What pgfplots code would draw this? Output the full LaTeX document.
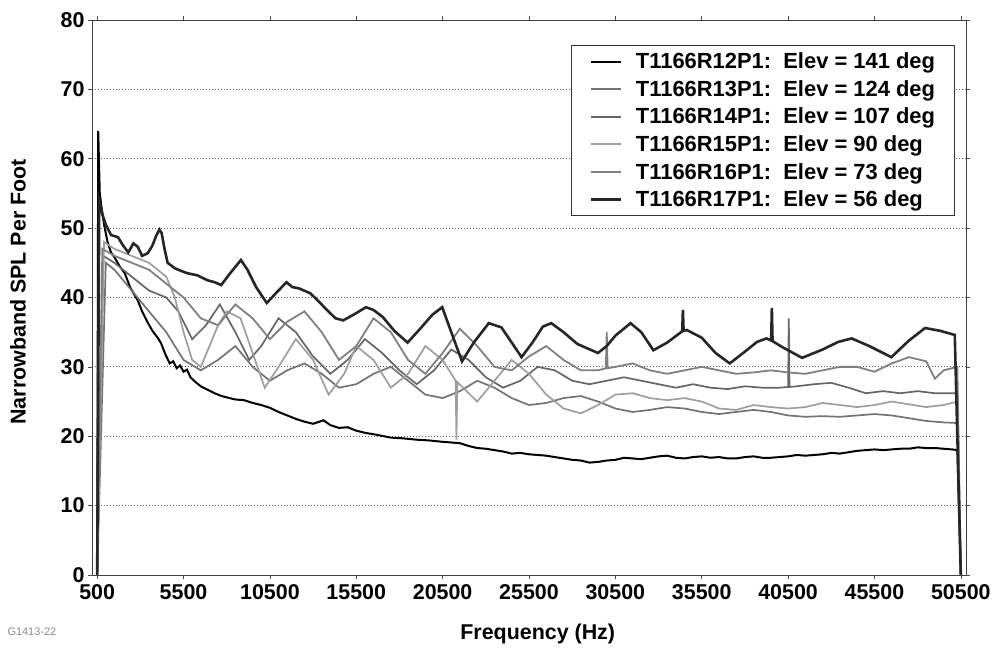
\documentclass[border=0pt]{standalone}
\usepackage{fontspec}
\setmainfont{Liberation Sans}
\usepackage{pgfplots}
\pgfplotsset{compat=1.18}

\begin{document}
\begin{tikzpicture}
\begin{axis}[
  name=main,
  scale only axis,
  width=874bp, height=555bp,
  xmin=200, xmax=50800,
  ymin=0, ymax=80,
  xtick={500,5500,...,50500},
  ytick={0,10,...,80},
  scaled ticks=false,
  /pgf/number format/assume math mode=true,
  /pgf/number format/fixed,
  /pgf/number format/set thousands separator={},
  tick align=outside,
  major tick length=4bp,
  tick style={black!70, line width=0.6bp},
  ticklabel style={font=\fontsize{21.5}{24}\selectfont\bfseries},
  xticklabel style={yshift=-2bp},
  ymajorgrids,
  grid style={black!65, line width=0.9bp, dash pattern=on 1bp off 2bp},
  axis line style={black!75, line width=0.9bp},
  xlabel={Frequency (Hz)},
  ylabel={Narrowband SPL Per Foot},
  label style={font=\fontsize{21.5}{24}\selectfont\bfseries},
  xlabel style={at={(axis description cs:0.51,-0.106)}, anchor=center},
  ylabel style={at={(axis description cs:-0.0847,0.51)}, anchor=center},
  legend cell align=left,
  legend image code/.code={\draw[#1] (0bp,0bp) -- (30bp,0bp);},
  legend style={
    at={(0.9874,0.955)}, anchor=north east,
    draw=black!80, line width=0.6bp,
    font=\fontsize{22}{25}\selectfont\bfseries,
    nodes={inner sep=1.6bp},
    row sep=7bp,
    inner xsep=18bp, inner ysep=6bp,
    /tikz/every odd column/.append style={column sep=12bp},
  },
]

% R12, 141 deg
\addplot[black, line width=2bp] coordinates {
(500,0) (560,64) (650,55) (750,53) (900,50.5) (1100,48) (1300,46.5) (1500,45.8)
(1800,44.5) (2100,43.5) (2400,41.5) (2700,40.2) (2850,39.6) (3100,38) (3400,36.5)
(3700,35.2) (4000,34.2) (4200,33.4) (4450,31.8) (4700,30.5) (4900,30.8) (5100,29.8)
(5300,30.2) (5500,29.3) (5700,29.6) (5900,28.5) (6200,27.8) (6500,27.2) (6900,26.7)
(7300,26.2) (7700,25.8) (8000,25.6) (8500,25.3) (9000,25.2) (9500,24.8) (10000,24.5)
(10500,24.1) (11000,23.5) (11500,23) (12000,22.5) (12500,22.1) (13000,21.8) (13600,22.3)
(14000,21.6) (14500,21.2) (15000,21.3) (15500,20.8) (16000,20.5) (16700,20.2) (17500,19.8)
(18200,19.7) (19000,19.5) (19700,19.4) (20500,19.2) (21000,19.1) (21500,19) (22000,18.6)
(22500,18.3) (23000,18.2) (23500,18) (24000,17.8) (24500,17.5) (25000,17.6) (25500,17.4)
(26000,17.3) (26500,17.2) (27000,17) (27500,16.8) (28000,16.6) (28500,16.5) (29000,16.2)
(29500,16.3) (30000,16.5) (30500,16.6) (31000,16.9) (31500,16.8) (32000,16.7) (32500,16.9)
(33000,17.1) (33500,17.2) (34000,16.9) (34500,16.8) (35000,17) (35500,17.1) (36000,16.9)
(36500,17) (37000,16.8) (37500,16.8) (38000,17) (38500,17.1) (39000,16.9) (39500,16.9)
(40000,17) (40500,17.1) (41000,17.3) (41500,17.2) (42000,17.3) (42500,17.4) (43000,17.6)
(43500,17.5) (44000,17.7) (44500,17.9) (45000,18) (45500,18.1) (46000,18) (46500,18.1)
(47000,18.2) (47500,18.2) (48000,18.4) (48500,18.3) (49000,18.3) (49500,18.2) (50000,18.1)
(50300,18) (50500,0)
};
\addlegendentry{T1166R12P1:~~Elev = 141 deg}

% R13, 124 deg
\addplot[black!55, line width=1.7bp] coordinates {
(500,0) (1000,45) (1500,44) (2500,41) (3500,38) (4500,35) (5000,33) (5500,31)
(6500,29.5) (7500,31) (8500,33) (9500,30) (10500,28) (11500,29.5) (12500,30.5)
(13500,29) (14500,27) (15500,27.5) (16500,29) (17500,30) (18500,28) (19500,26)
(20500,25.5) (21500,26.5) (22500,28) (23500,27) (24500,25.5) (25500,24.5) (26500,24.8)
(27500,25.5) (28500,25.8) (29500,25) (30500,24) (31500,23.5) (32500,23.8) (33500,24.2)
(34500,24) (35500,23.5) (36500,23.2) (37500,23.5) (38500,23.8) (39500,23.5) (40500,23)
(41500,22.8) (42500,22.9) (43500,22.8) (44500,23) (45500,23.2) (46500,23) (47500,22.6)
(48500,22.2) (49500,22) (50300,21.9) (50500,0)
};
\addlegendentry{T1166R13P1:~~Elev = 124 deg}

% R14, 107 deg
\addplot[black!60, line width=1.7bp] coordinates {
(500,0) (850,46) (1500,45) (2500,43) (3500,41) (4500,40) (5200,38) (6000,34)
(6800,36) (7600,39) (8500,35) (9300,31) (10000,33) (11000,37) (12000,35) (13000,31.5)
(14000,29) (15000,31) (16000,34) (17000,32) (18000,29.5) (19000,27.5) (20000,29.5)
(21000,32.5) (22000,31) (23000,28.5) (24000,27) (25000,28) (26000,30) (27000,29.5)
(28000,28) (29000,27.5) (30000,28) (31000,28.5) (32000,28) (33000,27.5) (34000,27)
(35000,27.5) (36000,27) (37000,26.8) (38000,27.2) (39000,27) (40000,27) (40500,27.1)
(40540,37) (40580,27.1) (41000,27.2) (42000,27.5) (43000,27.7) (44000,27) (45000,26.2)
(46000,26.5) (47000,26.2) (48000,26.5) (49000,26.2) (50300,26.2) (50500,0)
};
\addlegendentry{T1166R14P1:~~Elev = 107 deg}

% R15, 90 deg
\addplot[black!38, line width=1.7bp] coordinates {
(500,0) (900,48) (1500,47) (2500,46) (3500,45) (4500,43) (5000,40) (5500,35)
(6000,31) (6500,30) (7000,33) (7500,36) (8000,38) (8800,37) (9500,32) (10200,27)
(11000,30) (12000,34) (13000,31) (13900,26) (14800,29) (15500,33) (16500,31)
(17500,27) (18500,29) (19500,33) (20500,31) (21250,28) (21300,19.5) (21350,27.8)
(22500,25) (23500,28) (24500,31) (25500,29) (26500,26) (27500,24) (28500,23.3)
(29500,24.5) (30500,26) (31500,26.2) (32500,25.5) (33500,25.2) (34500,25.5) (35500,25)
(36500,24) (37500,23.8) (38500,24.5) (39500,24.2) (40500,24) (41500,24.2) (42500,24.8)
(43500,24.5) (44500,24.2) (45500,24.5) (46500,25) (47500,24.6) (48500,24.2) (49500,24.5)
(50300,25) (50500,0)
};
\addlegendentry{T1166R15P1:~~Elev = 90 deg}

% R16, 73 deg
\addplot[black!50, line width=1.8bp] coordinates {
(500,0) (800,47) (1500,46) (2500,45) (3500,44) (4500,42) (5500,40) (6500,37)
(7500,36) (8500,39) (9500,37) (10500,34) (11500,36.5) (12500,38) (13500,35) (14500,31)
(15500,33) (16500,37) (17500,35) (18500,31) (19500,29) (20500,32) (21500,35.5)
(22500,33) (23500,30) (24500,29.5) (25500,31.5) (26500,33) (27500,31) (28500,29.5)
(29500,29.5) (29950,29.8) (30000,35) (30050,29.8) (30500,30) (31500,30.5) (32500,29.5)
(33500,29) (34500,29.5) (35500,30) (36500,29.5) (37500,29) (38500,29.2) (39500,29.5)
(40500,29.2) (41500,29) (42500,29.5) (43500,30) (44500,30) (45500,29.3) (46500,30.5)
(47500,31.4) (48500,30.8) (49000,28.3) (49500,29.5) (50300,30) (50500,0)
};
\addlegendentry{T1166R16P1:~~Elev = 73 deg}

% R17, 56 deg
\addplot[black!85, line width=2.6bp] coordinates {
(500,0) (620,54) (800,52) (1000,50.5) (1300,49) (1700,48.7) (2000,47.5) (2300,46.5)
(2600,47.8) (2850,47.3) (3100,46) (3430,46.4) (3700,47.5) (3900,48.8) (4100,49.8)
(4230,49.3) (4400,47) (4580,45) (5000,44.2) (5400,43.8) (5720,43.5) (6300,43.2)
(6870,42.5) (7300,42.2) (7680,41.8) (8200,43.5) (8820,45.4) (9200,44) (9700,41.5)
(10320,39.2) (10800,40.5) (11460,42.2) (11800,41.5) (12200,41.3) (12840,40.6)
(13300,39.5) (13800,38.2) (14300,37) (14740,36.7) (15400,37.6) (16060,38.6) (16500,38.2)
(17030,37.2) (17700,35.2) (18470,33.5) (19200,35.5) (19900,37.5) (20475,38.6) (21000,35)
(21620,30.8) (22300,33.5) (23170,36.3) (23900,35.7) (24500,33.5) (25070,31.4) (25700,33.5)
(26300,35.8) (26790,36.3) (27500,35) (28300,33.3) (29490,32) (30000,33) (30500,34.5)
(31380,36.3) (32000,35) (32700,32.4) (33500,33.5) (34300,35) (34370,35.1) (34410,38.2)
(34450,35.2) (34650,35.3) (35500,34.2) (36300,32) (37120,30.5) (38000,32.2) (38700,33.6)
(39250,34.1) (39520,33.8) (39560,38.5) (39600,33.7) (40200,32.8) (41310,31.3) (42500,32.5)
(43400,33.6) (44180,34.1) (45200,33) (46480,31.4) (47500,33.8) (48430,35.6) (49300,35.2)
(50150,34.6) (50500,0)
};
\addlegendentry{T1166R17P1:~~Elev = 56 deg}

\end{axis}
\node[anchor=west, font=\fontsize{11}{13}\selectfont, text=black!45]
  at ([shift={(-88bp,-57bp)}]main.south west) {G1413-22};
\pgfresetboundingbox
\path ([shift={(-92bp,-79bp)}]main.south west) rectangle ++(995bp,654bp);
\end{tikzpicture}
\end{document}
